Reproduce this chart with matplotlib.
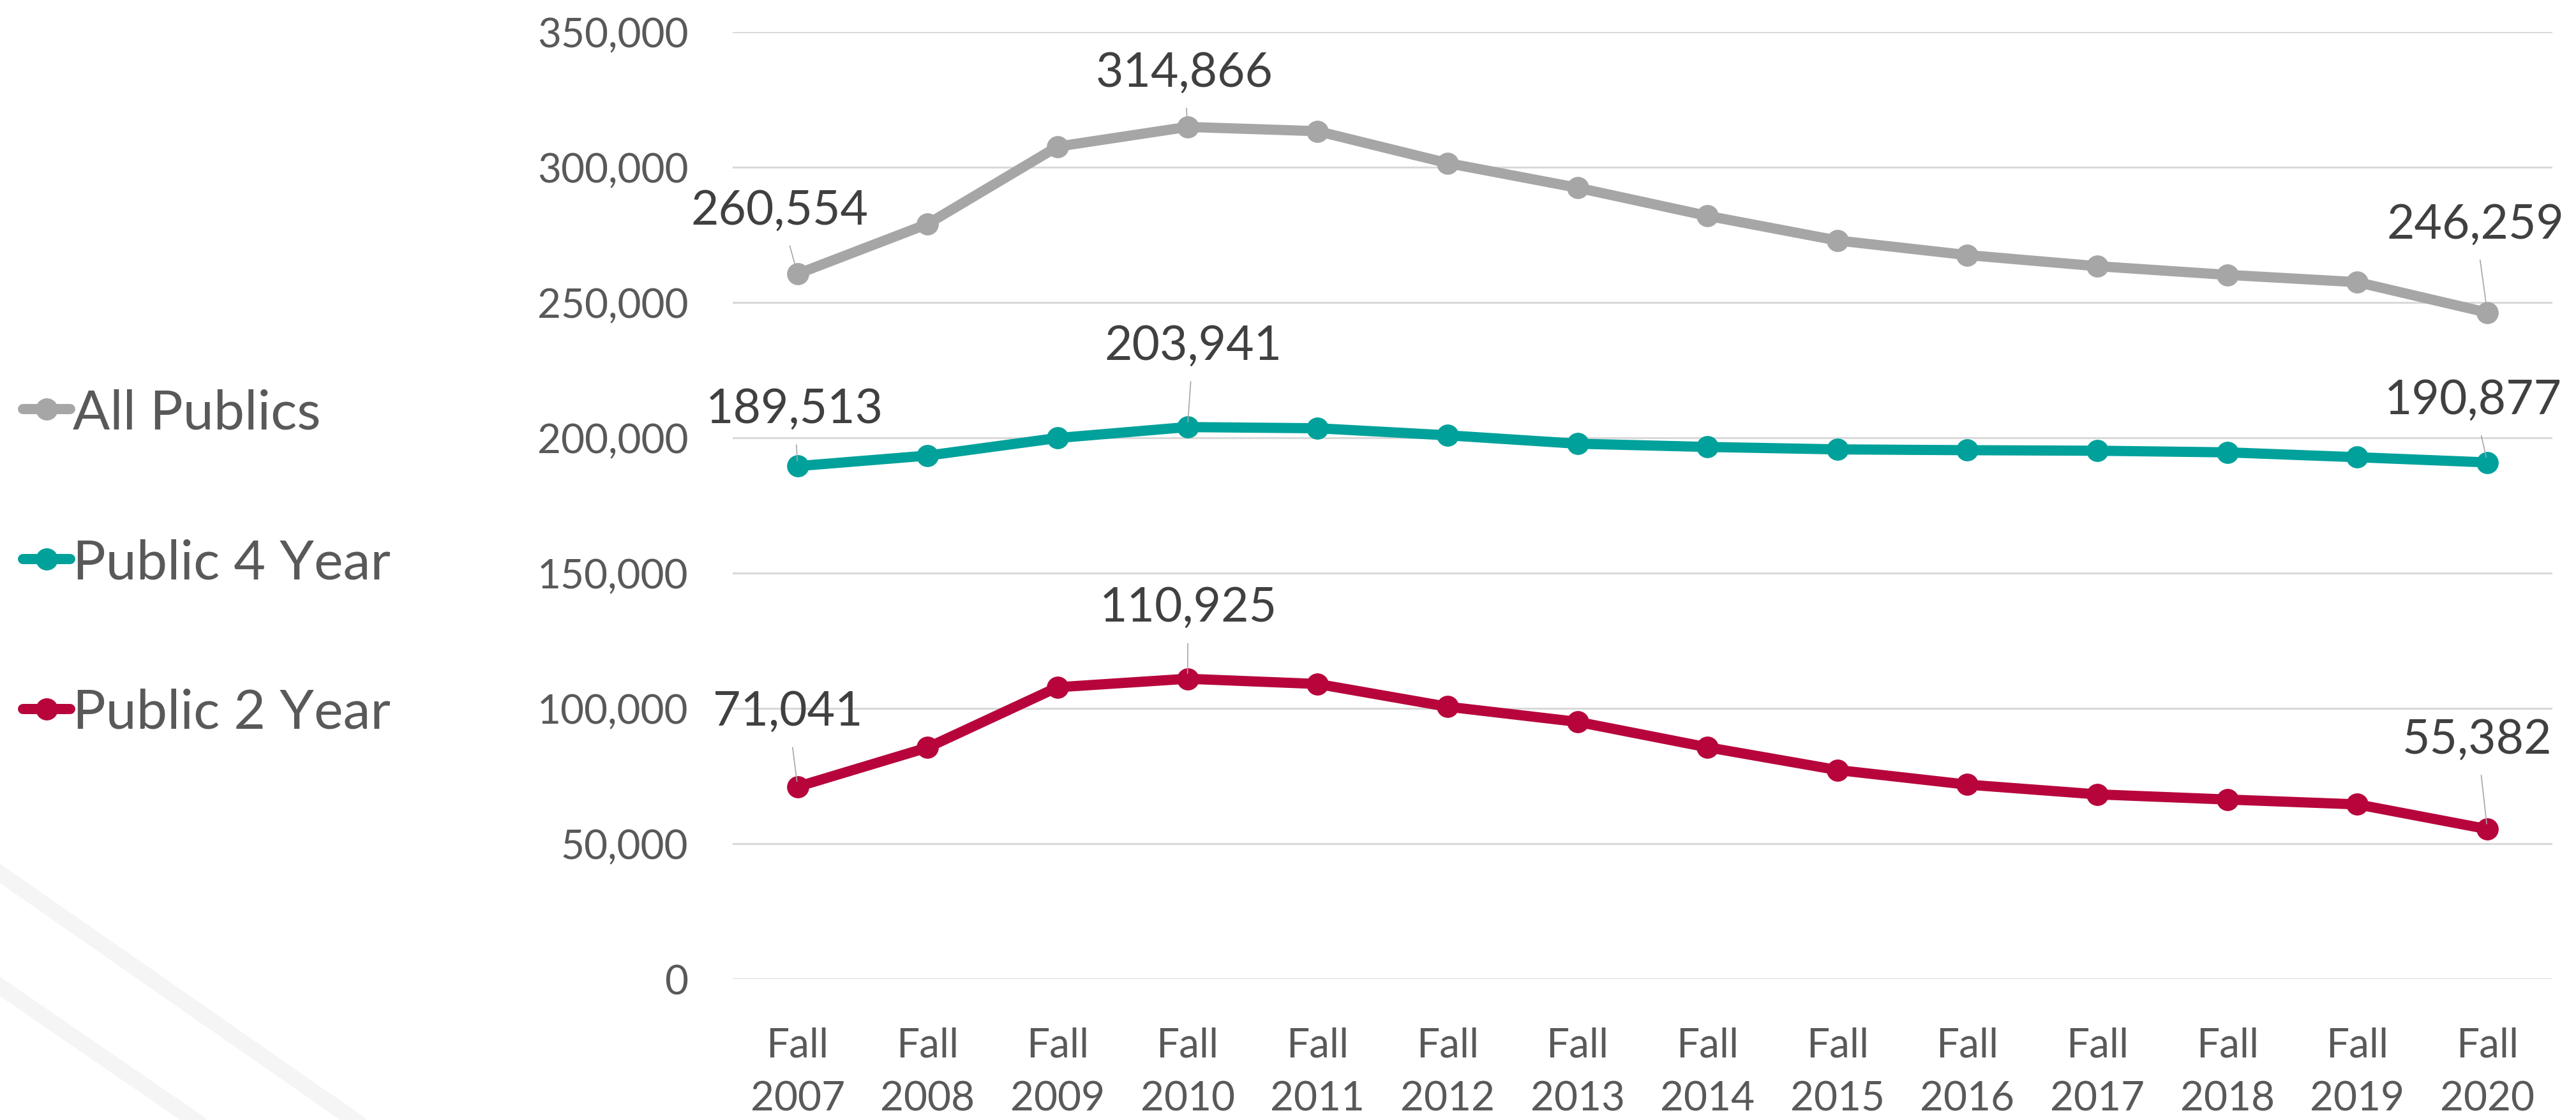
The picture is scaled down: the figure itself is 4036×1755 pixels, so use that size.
import matplotlib.pyplot as plt
from matplotlib.lines import Line2D
from matplotlib.ticker import FuncFormatter

plt.rcParams['font.family'] = ['Lato', 'DejaVu Sans']

years = ['Fall\n2007', 'Fall\n2008', 'Fall\n2009', 'Fall\n2010', 'Fall\n2011', 'Fall\n2012', 'Fall\n2013',
         'Fall\n2014', 'Fall\n2015', 'Fall\n2016', 'Fall\n2017', 'Fall\n2018', 'Fall\n2019', 'Fall\n2020']

all_publics = [260554, 279000, 307600, 314866, 313300, 301500, 292400, 282000,
               272900, 267500, 263400, 260200, 257500, 246259]
public_4yr = [189513, 193400, 199900, 203941, 203500, 200900, 197800, 196600,
              195700, 195400, 195200, 194600, 192800, 190877]
public_2yr = [71041, 85500, 107800, 110925, 109000, 100600, 95000, 85600,
              77200, 71800, 68200, 66300, 64500, 55382]

series_names = ['All Publics', 'Public 4 Year', 'Public 2 Year']
series_colors = ['#A6A6A6', '#00A19B', '#B7053C']

# which points get a value label, and where the label sits (pixels from the point)
label_offsets = {
    0: [(0, (-28, 100)), (3, (-5, 86)), (13, (-19, 139))],
    1: [(0, (-5, 90)), (3, (9, 128)), (13, (-22, 98))],
    2: [(0, (-15, 118)), (3, (1, 112)), (13, (-16, 141))],
}

fig = plt.figure(figsize=(40.36, 17.56), dpi=100)
ax = fig.add_axes([0.2844, 0.1259, 0.7064, 0.8451])

# faint diagonal stripes in the lower-left corner of the slide
fig.add_artist(Line2D([-0.01, 0.14], [0.236, -0.004], transform=fig.transFigure,
                      color='#F5F5F5', lw=18, zorder=0))
fig.add_artist(Line2D([-0.01, 0.078], [0.135, -0.004], transform=fig.transFigure,
                      color='#F5F5F5', lw=18, zorder=0))

x = list(range(len(years)))
all_series = [all_publics, public_4yr, public_2yr]
for i, vals in enumerate(all_series):
    ax.plot(x, vals, color=series_colors[i], lw=11.5, marker='o', markersize=24,
            solid_capstyle='round', label=series_names[i], zorder=3)
    for idx, off in label_offsets[i]:
        ax.annotate(f'{vals[idx]:,}', xy=(idx, vals[idx]), xytext=off,
                    textcoords='offset pixels', ha='center', va='center',
                    fontsize=54, color='#404040', zorder=5,
                    arrowprops=dict(arrowstyle='-', color='#A6A6A6', lw=1.2,
                                    shrinkA=14, shrinkB=6))

ax.set_xlim(-0.5, len(years) - 0.5)
ax.set_ylim(0, 350000)
ax.set_yticks(range(0, 350001, 50000))
ax.yaxis.set_major_formatter(FuncFormatter(lambda v, p: f'{int(v):,}'))
ax.set_xticks(x)
ax.set_xticklabels(years, linespacing=1.55)
ax.tick_params(axis='y', length=0, pad=50, labelsize=46, labelcolor='#595959')
ax.tick_params(axis='x', length=0, pad=54, labelsize=46, labelcolor='#595959')
ax.grid(axis='y', color='#D9D9D9', lw=2.2, zorder=0)
ax.set_axisbelow(True)
for s in ax.spines.values():
    s.set_visible(False)

fig.legend(loc='center left', bbox_to_anchor=(0.009, 0.497), frameon=False,
           fontsize=62, labelcolor='#595959', handlelength=0.85, handletextpad=0.05,
           labelspacing=1.82, borderpad=0, borderaxespad=0)

fig.savefig('out.png', dpi=100)
